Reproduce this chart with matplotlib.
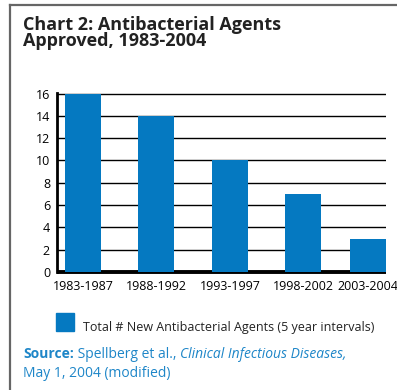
import numpy as np
import matplotlib
matplotlib.use("Agg")
import matplotlib.pyplot as plt
from matplotlib.lines import Line2D

plt.rcParams['font.family'] = ['Open Sans', 'DejaVu Sans']

periods = ['1983-1987', '1988-1992', '1993-1997', '1998-2002', '2003-2004']
approved = [16, 14, 10, 7, 3]
yticks = [0, 2, 4, 6, 8, 10, 12, 14, 16]
legend_label = 'Total # New Antibacterial Agents (5 year intervals)'

BLUE = '#0579C1'
SRC_BLUE = '#1E86C8'
W, H = 397, 390

fig = plt.figure(figsize=(W / 100, H / 100), dpi=100)
ax = fig.add_axes([57 / W, 1 - 272 / H, 329 / W, 179 / H])

# last column sits a bit closer, the panel is trimmed on the right
x = np.arange(len(periods), dtype=float)
x[-1] = 3.88
ax.bar(x, approved, width=0.49, color=BLUE, zorder=3)

ax.set_xlim(-0.354, 4.125)
ax.set_ylim(0, 16.05)
ax.set_yticks(yticks)
ax.set_xticks(x)
ax.set_xticklabels(periods, fontsize=9)
ax.tick_params(axis='y', length=0, pad=5, labelsize=9)
ax.tick_params(axis='x', length=0, pad=6)
ax.yaxis.grid(True, color='black', lw=1.0, zorder=0)
ax.set_axisbelow(True)
for s in ['top', 'right']:
    ax.spines[s].set_visible(False)
ax.spines['left'].set_linewidth(2.0)
ax.spines['bottom'].set_linewidth(2.8)
ax.spines['bottom'].set_capstyle('butt')

# frame lines (left and top)
fig.add_artist(Line2D([10 / W, 10 / W], [0, 1 - 5 / H], color='#666666', lw=1.6))
fig.add_artist(Line2D([10 / W, 1], [1 - 5 / H, 1 - 5 / H], color='#666666', lw=1.6))

fig.text(23 / W, 1 - 16 / H, 'Chart 2: Antibacterial Agents\nApproved, 1983-2004',
         fontsize=13, fontweight='bold', color='#222222', va='top', ha='left',
         linespacing=0.86)

# legend
fig.add_artist(plt.Rectangle((56 / W, 1 - 331 / H), 18 / W, 18 / H,
                             color=BLUE, transform=fig.transFigure))
fig.text(83 / W, 1 - 327 / H, legend_label, fontsize=9, color='#222222',
         va='center', ha='left')

# source line
base1 = 1 - 358 / H
t1 = fig.text(23 / W, base1, 'Source:', fontsize=10, fontweight='bold',
              color=SRC_BLUE, va='baseline', ha='left')
t2 = fig.text(0, base1, ' Spellberg et al., ', fontsize=10, color=SRC_BLUE,
              va='baseline', ha='left')
fig.canvas.draw()
r = fig.canvas.get_renderer()
t2.set_x(t1.get_window_extent(r).x1 / fig.bbox.width)
fig.canvas.draw()
fig.text(t2.get_window_extent(r).x1 / fig.bbox.width, base1,
         'Clinical Infectious Diseases,', fontsize=10, style='italic',
         color=SRC_BLUE, va='baseline', ha='left')
fig.text(23 / W, 1 - 377 / H, 'May 1, 2004 (modified)', fontsize=10,
         color=SRC_BLUE, va='baseline', ha='left')

fig.savefig('out.png', dpi=100)
